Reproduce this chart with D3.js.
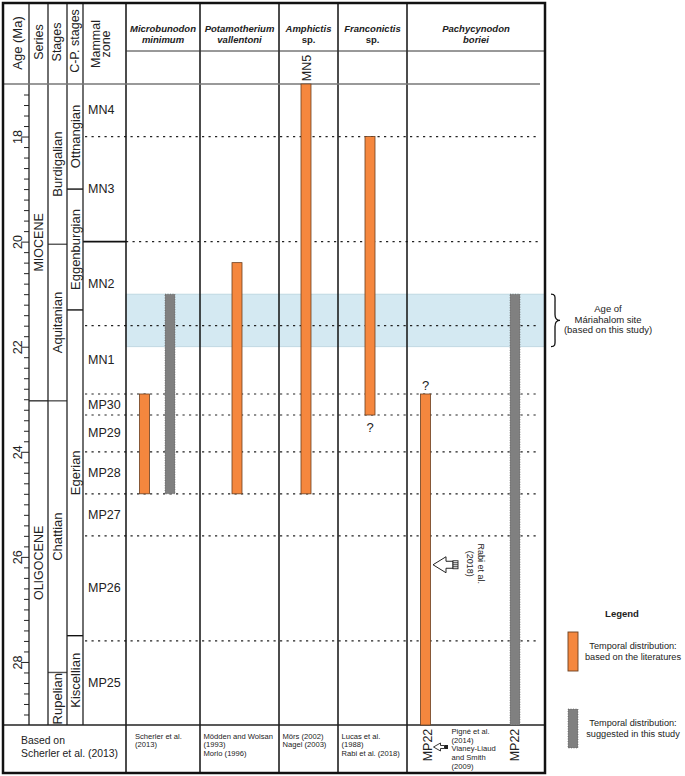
<!DOCTYPE html>
<html>
<head>
<meta charset="utf-8">
<script src="https://cdnjs.cloudflare.com/ajax/libs/d3/7.8.5/d3.min.js"></script>
<style>
body { margin: 0; background: #fff; }
svg text { font-family: "Liberation Sans", Arial, sans-serif; fill: #222; }
</style>
</head>
<body>
<div id="chart"></div>
<script>
// ages in Ma
var ageDomain = [17, 29.2];
var majorTicks = [18, 20, 22, 24, 26, 28];

var seriesNames = ["MIOCENE", "OLIGOCENE"];
var seriesBounds = [17, 23.03, 29.2];

var stageNames = ["Burdigalian", "Aquitanian", "Chattian", "Rupelian"];
var stageBounds = [17, 20.05, 23.03, 28.2, 29.2];

var cpNames = ["Ottnangian", "Eggenburgian", "Egerian", "Kiscellian"];
var cpBounds = [17, 19.0, 21.3, 27.5, 29.2];

var zoneNames = ["MN4", "MN3", "MN2", "MN1", "MP30", "MP29", "MP28", "MP27", "MP26", "MP25"];
var zoneBounds = [17, 18.0, 20.0, 21.6, 22.9, 23.3, 24.0, 24.8, 25.6, 27.6, 29.2];
var solidZoneBounds = [20.0];

var taxonGenus = ["Microbunodon", "Potamotherium", "Amphictis", "Franconictis", "Pachycynodon"];
var taxonEpithet = ["minimum", "vallentoni", "sp.", "sp.", "boriei"];

// temporal distribution from the literature (orange)
var litFrom = [22.9, 20.4, 17.0, 18.0, 22.9];
var litTo = [24.8, 24.8, 24.8, 23.3, 29.2];

// temporal distribution suggested in this study (grey)
var studyTaxa = ["Microbunodon", "Pachycynodon"];
var studyFrom = [21.0, 21.0];
var studyTo = [24.8, 29.2];

var siteAge = [21.0, 22.0];
var rabiAge = 26.15;

var references = [
    ["Scherler et al.", "(2013)"],
    ["Mödden and Wolsan", "(1993)", "Morlo (1996)"],
    ["Mörs (2002)", "Nagel (2003)"],
    ["Lucas et al.", "(1988)", "Rabi et al. (2018)"],
    ["Pigné et al.", "(2014)", "Vianey-Liaud", "and Smith", "(2009)"]
];

var orange = "#f5873e";
var grey = "#808080";
var blue = "#d4e9f2";

var W = 685, H = 776;
var frameL = 3, frameR = 545, frameT = 3, frameB = 773;
var headMid = 51, headBot = 84, footTop = 725;
var leftCols = [3, 29, 48, 67, 83, 126];
var colEdges = [126, 200, 279, 338, 407, 545];
var barW = 10;

var svg = d3.select("#chart").append("svg")
    .attr("width", W)
    .attr("height", H);

var y = d3.scaleLinear().domain(ageDomain).range([headBot, footTop]);

var col = d3.scaleOrdinal()
    .domain(taxonGenus)
    .range(taxonGenus.map(function(d, i) { return [colEdges[i], colEdges[i + 1]]; }));

var litX = function(g) {
    var c = col(g);
    if (studyTaxa.indexOf(g) >= 0) return c[0] + 13.5;
    return (c[0] + c[1]) / 2 - 2.5 - barW / 2;
};
var studyX = function(g) {
    return col(g)[1] - 30 - barW / 2;
};

// site age band
svg.append("rect")
    .attr("x", colEdges[0])
    .attr("y", y(siteAge[0]))
    .attr("width", frameR - colEdges[0])
    .attr("height", y(siteAge[1]) - y(siteAge[0]))
    .attr("fill", blue)
    .attr("stroke", "#b9d3de")
    .attr("stroke-width", 0.8);

// zone boundaries (dotted)
svg.append("g").selectAll("line")
    .data(zoneBounds.slice(1, -1))
    .enter().append("line")
    .attr("x1", function(d) { return solidZoneBounds.indexOf(d) >= 0 ? colEdges[0] : leftCols[4] + 2; })
    .attr("x2", frameR - 7)
    .attr("y1", function(d) { return y(d); })
    .attr("y2", function(d) { return y(d); })
    .attr("stroke", "#222")
    .attr("stroke-width", 1.2)
    .attr("stroke-dasharray", "2.2,4.3");

// solid zone boundaries in mammal zone column
svg.append("g").selectAll("line")
    .data(solidZoneBounds)
    .enter().append("line")
    .attr("x1", leftCols[4]).attr("x2", leftCols[5])
    .attr("y1", function(d) { return y(d); })
    .attr("y2", function(d) { return y(d); })
    .attr("stroke", "#111")
    .attr("stroke-width", 1.8);

// stage boundaries
var boundaryLines = function(bounds, x1, x2, color) {
    svg.append("g").selectAll("line")
        .data(bounds.slice(1, -1))
        .enter().append("line")
        .attr("x1", x1).attr("x2", x2)
        .attr("y1", function(d) { return y(d); })
        .attr("y2", function(d) { return y(d); })
        .attr("stroke", color)
        .attr("stroke-width", 1.4);
};
boundaryLines(seriesBounds, leftCols[1], leftCols[2], "#333");
boundaryLines(stageBounds, leftCols[2], leftCols[3], "#555");
boundaryLines(cpBounds, leftCols[3], leftCols[4], "#111");

// vertical column lines
svg.append("g").selectAll("line")
    .data(leftCols.slice(1, -1))
    .enter().append("line")
    .attr("x1", function(d) { return d; }).attr("x2", function(d) { return d; })
    .attr("y1", frameT).attr("y2", footTop)
    .attr("stroke", "#222").attr("stroke-width", 1.3);

svg.append("g").selectAll("line")
    .data(colEdges.slice(0, -1))
    .enter().append("line")
    .attr("x1", function(d) { return d; }).attr("x2", function(d) { return d; })
    .attr("y1", frameT).attr("y2", frameB)
    .attr("stroke", "#111").attr("stroke-width", 1.5);

// horizontal rules
svg.append("line")
    .attr("x1", colEdges[0]).attr("x2", frameR)
    .attr("y1", headMid).attr("y2", headMid)
    .attr("stroke", "#333").attr("stroke-width", 1);
svg.append("line")
    .attr("x1", frameL).attr("x2", frameR - 5)
    .attr("y1", headBot).attr("y2", headBot)
    .attr("stroke", "#777").attr("stroke-width", 1.3);
svg.append("line")
    .attr("x1", frameL).attr("x2", frameR)
    .attr("y1", footTop).attr("y2", footTop)
    .attr("stroke", "#222").attr("stroke-width", 1.3);

// age axis
var minorTicks = y.ticks(60).filter(function(d) {
    return d > ageDomain[0] + 0.01 && d < ageDomain[1] - 0.01 &&
        majorTicks.every(function(m) { return Math.abs(m - d) > 0.01; });
});
var minorAxis = d3.axisLeft(y).tickValues(minorTicks).tickSize(5).tickFormat("");
var majorAxis = d3.axisLeft(y).tickValues(majorTicks).tickSize(8).tickFormat(d3.format("d"));

var gMinor = svg.append("g").attr("transform", "translate(" + leftCols[1] + ",0)").call(minorAxis);
var gMajor = svg.append("g").attr("transform", "translate(" + leftCols[1] + ",0)").call(majorAxis);
gMinor.select(".domain").remove();
gMajor.select(".domain").remove();
svg.selectAll(".tick line").attr("stroke", "#222").attr("stroke-width", 1);
gMajor.selectAll("text")
    .attr("transform", "rotate(-90)")
    .attr("x", 0).attr("y", -7).attr("dy", 0)
    .attr("text-anchor", "middle")
    .style("font-family", "'Liberation Sans', Arial, sans-serif")
    .style("font-size", "12.5px")
    .attr("fill", "#222");

// rotated text helper
var vText = function(x, yy, str, size, weight) {
    return svg.append("text")
        .attr("transform", "translate(" + x + "," + yy + ") rotate(-90)")
        .attr("text-anchor", "middle")
        .style("font-size", size + "px")
        .style("font-weight", weight || "normal")
        .text(str);
};

// column headers, left part
vText(22, 43, "Age (Ma)", 13);
vText(43, 42, "Series", 12.5);
vText(61, 42, "Stages", 12.5);
vText(79, 41, "C-P. stages", 12.5);
vText(100, 44, "Mammal", 12.5);
vText(110, 44, "zone", 12.5);

// species headers
var heads = svg.append("g").selectAll("text")
    .data(taxonGenus)
    .enter().append("text")
    .attr("text-anchor", "middle")
    .style("font-size", "9.5px")
    .style("font-weight", "bold");
heads.append("tspan")
    .attr("x", function(d) { var c = col(d); return (c[0] + c[1]) / 2; })
    .attr("y", 32)
    .style("font-style", "italic")
    .text(function(d) { return d; });
heads.append("tspan")
    .attr("x", function(d) { var c = col(d); return (c[0] + c[1]) / 2; })
    .attr("y", 43)
    .style("font-style", function(d, i) { return taxonEpithet[i] === "sp." ? "normal" : "italic"; })
    .text(function(d, i) { return taxonEpithet[i]; });

// column labels for series, stages, C-P stages
var colLabels = function(names, bounds, cx, size) {
    names.forEach(function(n, i) {
        var mid = (y(bounds[i]) + y(bounds[i + 1])) / 2;
        svg.append("text")
            .attr("transform", "translate(" + cx + "," + mid + ") rotate(-90)")
            .attr("text-anchor", "middle")
            .attr("dominant-baseline", "central")
            .style("font-size", size + "px")
            .text(n);
    });
};
colLabels(seriesNames, seriesBounds, (leftCols[1] + leftCols[2]) / 2, 12.5);
colLabels(stageNames, stageBounds, (leftCols[2] + leftCols[3]) / 2, 13);
colLabels(cpNames, cpBounds, (leftCols[3] + leftCols[4]) / 2, 13);

// mammal zone labels
svg.append("g").selectAll("text")
    .data(zoneNames)
    .enter().append("text")
    .attr("x", leftCols[4] + 5)
    .attr("y", function(d, i) { return (y(zoneBounds[i]) + y(zoneBounds[i + 1])) / 2; })
    .attr("dominant-baseline", "central")
    .style("font-size", "12.5px")
    .text(function(d) { return d; });

// literature bars
svg.append("g").selectAll("rect")
    .data(taxonGenus)
    .enter().append("rect")
    .attr("x", function(d) { return litX(d); })
    .attr("y", function(d, i) { return y(litFrom[i]); })
    .attr("width", barW)
    .attr("height", function(d, i) { return y(litTo[i]) - y(litFrom[i]); })
    .attr("fill", orange)
    .attr("stroke", "#6b3f1f")
    .attr("stroke-width", 0.8);

// this study bars
svg.append("g").selectAll("rect")
    .data(studyTaxa)
    .enter().append("rect")
    .attr("x", function(d) { return studyX(d); })
    .attr("y", function(d, i) { return y(studyFrom[i]); })
    .attr("width", barW)
    .attr("height", function(d, i) { return y(studyTo[i]) - y(studyFrom[i]); })
    .attr("fill", grey)
    .attr("stroke", "#555")
    .attr("stroke-width", 0.6)
    .attr("stroke-dasharray", "1,1.5");

// MN5 above Amphictis
vText(litX("Amphictis") + barW / 2 + 5, 68, "MN5", 12.5);

// question marks
svg.append("text")
    .attr("x", litX("Franconictis") + barW / 2)
    .attr("y", y(litTo[3]) + 17)
    .attr("text-anchor", "middle")
    .style("font-size", "13px")
    .text("?");
svg.append("text")
    .attr("x", litX("Pachycynodon") + barW / 2)
    .attr("y", y(litFrom[4]) - 4)
    .attr("text-anchor", "middle")
    .style("font-size", "13px")
    .text("?");

// Rabi et al. arrow
var ax = litX("Pachycynodon") + barW + 2.5, ay = y(rabiAge);
var bigArrow = d3.path();
bigArrow.moveTo(ax, ay);
bigArrow.lineTo(ax + 13, ay - 8);
bigArrow.lineTo(ax + 13, ay - 3.5);
bigArrow.lineTo(ax + 20, ay - 3.5);
bigArrow.lineTo(ax + 20, ay + 3.5);
bigArrow.lineTo(ax + 13, ay + 3.5);
bigArrow.lineTo(ax + 13, ay + 8);
bigArrow.closePath();
svg.append("path").attr("d", bigArrow.toString())
    .attr("fill", "#fff").attr("stroke", "#222").attr("stroke-width", 1);
svg.append("rect")
    .attr("x", ax + 20).attr("y", ay - 4)
    .attr("width", 5).attr("height", 8)
    .attr("fill", "#fff").attr("stroke", "#222").attr("stroke-width", 0.9);
svg.append("g").selectAll("line")
    .data([-2, 0, 2])
    .enter().append("line")
    .attr("x1", ax + 20).attr("x2", ax + 25)
    .attr("y1", function(d) { return ay + d; })
    .attr("y2", function(d) { return ay + d; })
    .attr("stroke", "#222").attr("stroke-width", 0.9);

var rabi = svg.append("text")
    .attr("transform", "translate(" + (ax + 44.5) + "," + (ay - 1) + ") rotate(90)")
    .attr("text-anchor", "middle")
    .style("font-size", "9px");
rabi.append("tspan").attr("x", 0).attr("y", 0).text("Rabi et al.");
rabi.append("tspan").attr("x", 0).attr("y", 11).text("(2018)");

// footer
var footL = svg.append("text").style("font-size", "10.4px");
footL.append("tspan").attr("x", 21).attr("y", 744).text("Based on");
footL.append("tspan").attr("x", 21).attr("y", 757).text("Scherler et al. (2013)");

references.forEach(function(lines, i) {
    var c = col(taxonGenus[i]);
    var pachy = i === 4;
    var x0 = pachy ? litX(taxonGenus[i]) + 31 : c[0] + (i === 0 ? 9 : 3.5);
    var t = svg.append("text").style("font-size", "7.6px");
    lines.forEach(function(l, j) {
        t.append("tspan").attr("x", x0).attr("y", (pachy ? 734 : 738.5) + j * 8.7).text(l);
    });
});

vText(litX("Pachycynodon") + barW / 2 + 6, 745, "MP22", 12.5);
vText(studyX("Pachycynodon") + barW / 2 + 4, 745, "MP22", 12.5);

// small footer arrow
var fx = litX("Pachycynodon") + barW + 3, fy = 747;
var smallArrow = d3.path();
smallArrow.moveTo(fx, fy);
smallArrow.lineTo(fx + 7, fy - 4);
smallArrow.lineTo(fx + 7, fy - 1.5);
smallArrow.lineTo(fx + 11, fy - 1.5);
smallArrow.lineTo(fx + 11, fy + 1.5);
smallArrow.lineTo(fx + 7, fy + 1.5);
smallArrow.lineTo(fx + 7, fy + 4);
smallArrow.closePath();
svg.append("path").attr("d", smallArrow.toString())
    .attr("fill", "#fff").attr("stroke", "#222").attr("stroke-width", 0.9);
svg.append("rect")
    .attr("x", fx + 11).attr("y", fy - 2)
    .attr("width", 3.5).attr("height", 4)
    .attr("fill", "#222");

// brace and site label
var by0 = y(siteAge[0]), by1 = y(siteAge[1]), bm = (by0 + by1) / 2, bx = frameR + 6;
var brace = d3.path();
brace.moveTo(bx, by0);
brace.bezierCurveTo(bx + 5, by0, bx + 4, by0 + 3, bx + 4, by0 + 9);
brace.lineTo(bx + 4, bm - 6);
brace.bezierCurveTo(bx + 4, bm - 2, bx + 6, bm, bx + 9, bm);
brace.bezierCurveTo(bx + 6, bm, bx + 4, bm + 2, bx + 4, bm + 6);
brace.lineTo(bx + 4, by1 - 9);
brace.bezierCurveTo(bx + 4, by1 - 3, bx + 5, by1, bx, by1);
svg.append("path").attr("d", brace.toString())
    .attr("fill", "none").attr("stroke", "#111").attr("stroke-width", 1.3);

var site = svg.append("text").attr("text-anchor", "middle").style("font-size", "9.5px");
["Age of", "Máriahalom site", "(based on this study)"].forEach(function(l, j) {
    site.append("tspan").attr("x", 608).attr("y", bm - 8 + j * 10.5).text(l);
});

// legend
svg.append("text").attr("x", 622).attr("y", 617)
    .attr("text-anchor", "middle")
    .style("font-size", "9.5px").style("font-weight", "bold")
    .text("Legend");

var legendItems = [
    { fill: orange, stroke: "#6b3f1f", dash: null, y: 632, lines: ["Temporal distribution:", "based on the literatures"] },
    { fill: grey, stroke: "#555", dash: "1,1.5", y: 709, lines: ["Temporal distribution:", "suggested in this study"] }
];
legendItems.forEach(function(d) {
    svg.append("rect")
        .attr("x", 568).attr("y", d.y)
        .attr("width", barW).attr("height", 39)
        .attr("fill", d.fill).attr("stroke", d.stroke)
        .attr("stroke-width", d.dash ? 0.6 : 0.9)
        .attr("stroke-dasharray", d.dash);
    var t = svg.append("text").attr("text-anchor", "middle").style("font-size", "9.2px");
    d.lines.forEach(function(l, j) {
        t.append("tspan").attr("x", 633).attr("y", d.y + 17 + j * 11).text(l);
    });
});

// outer frame
svg.append("rect")
    .attr("x", frameL).attr("y", frameT)
    .attr("width", frameR - frameL).attr("height", frameB - frameT)
    .attr("fill", "none").attr("stroke", "#111").attr("stroke-width", 2.5);
</script>
</body>
</html>
